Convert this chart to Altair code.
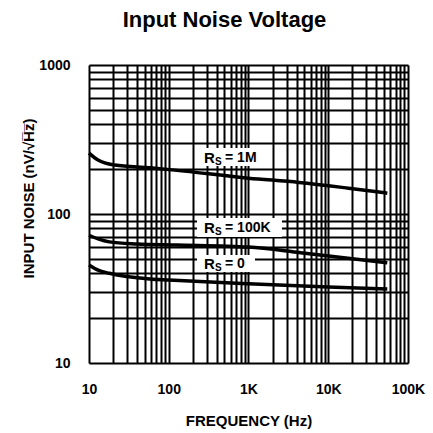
import altair as alt
import pandas as pd

# Noise curves: frequency (Hz) vs input noise (nV/sqrt(Hz)) for each source resistance
freq_1m = [10, 13, 21, 58, 119, 1000, 4300, 18000, 55000]
noise_1m = [256, 230, 213, 204, 197, 174, 163, 149, 138]

freq_100k = [10, 13, 18, 40, 126, 1000, 4500, 55000]
noise_100k = [72, 68, 65, 63, 62, 60, 55, 47]

freq_0 = [10, 13, 18, 58, 100, 1000, 10000, 55000]
noise_0 = [45.5, 42, 40, 36.6, 36, 34, 32.4, 31.4]

# Curve labels: anchor point and the white box behind each label
label_main = ["R", "R", "R"]
label_sub = ["S", "S", "S"]
label_rest = ["= 1M", "= 100K", "= 0"]
label_freq = [277, 277, 277]
label_noise = [238, 80.5, 46.2]
box_f_lo = [226, 226, 226]
box_f_hi = [1757, 2630, 1206]
box_n_lo = [210, 70.1, 40.8]
box_n_hi = [277, 94, 53.1]

# Log grid positions (1..9 per decade)
x_grid = [k * 10 ** e for e in range(1, 5) for k in range(1, 10)] + [100000]
y_grid = [k * 10 ** e for e in range(1, 3) for k in range(1, 10)] + [1000]

rows = []
for name, fs, ns in [("1M", freq_1m, noise_1m), ("100K", freq_100k, noise_100k), ("0", freq_0, noise_0)]:
    for f, n in zip(fs, ns):
        rows.append({"series": name, "freq": f, "noise": n})
curves = pd.DataFrame(rows)

labels = pd.DataFrame({
    "main": label_main, "sub": label_sub, "rest": label_rest,
    "freq": label_freq, "noise": label_noise,
    "f_lo": box_f_lo, "f_hi": box_f_hi, "n_lo": box_n_lo, "n_hi": box_n_hi,
})

FONT = "Liberation Sans"

x_scale = alt.Scale(type="log", domain=[10, 100000], nice=False)
y_scale = alt.Scale(type="log", domain=[10, 1000], nice=False)

x_axis = alt.Axis(
    values=x_grid, grid=True, gridColor="black", gridWidth=2, gridOpacity=1,
    ticks=False, domain=False, labelOverlap=False, labelFlush=False,
    labelExpr="datum.value == 10 ? '10' : datum.value == 100 ? '100' : datum.value == 1000 ? '1K' : datum.value == 10000 ? '10K' : datum.value == 100000 ? '100K' : ''",
    labelFont=FONT, labelFontWeight="bold", labelFontSize=14, labelColor="black",
    labelPadding=19, labelBaseline="top",
    title="FREQUENCY (Hz)", titleFont=FONT, titleFontWeight="bold", titleFontSize=15,
    titleColor="black", titleY=57, titleBaseline="middle",
)
y_axis = alt.Axis(
    values=y_grid, grid=True, gridColor="black", gridWidth=2, gridOpacity=1,
    ticks=False, domain=False, labelOverlap=False, labelFlush=False,
    labelExpr="datum.value == 10 ? '10' : datum.value == 100 ? '100' : datum.value == 1000 ? '1000' : ''",
    labelFont=FONT, labelFontWeight="bold", labelFontSize=14, labelColor="black",
    labelPadding=19,
    title="INPUT NOISE (nV/\u221aH\u0305z\u0305)", titleFont=FONT, titleFontWeight="bold",
    titleFontSize=15, titleColor="black", titleAngle=-90, titleX=-61, titleY=133,
    titleAlign="center", titleBaseline="middle",
)

lines = alt.Chart(curves).mark_line(color="black", strokeWidth=3.5, interpolate="monotone").encode(
    x=alt.X("freq:Q", scale=x_scale, axis=x_axis),
    y=alt.Y("noise:Q", scale=y_scale, axis=y_axis),
    detail="series:N",
)

boxes = alt.Chart(labels).mark_rect(color="white").encode(
    x=alt.X("f_lo:Q", scale=x_scale), x2="f_hi:Q",
    y=alt.Y("n_lo:Q", scale=y_scale), y2="n_hi:Q",
)

text_style = dict(font=FONT, fontWeight="bold", color="black", align="left", baseline="middle")
t_main = alt.Chart(labels).mark_text(fontSize=15, **text_style).encode(
    x=alt.X("freq:Q", scale=x_scale), y=alt.Y("noise:Q", scale=y_scale), text="main:N")
t_sub = alt.Chart(labels).mark_text(fontSize=10, dx=11, dy=4, **text_style).encode(
    x=alt.X("freq:Q", scale=x_scale), y=alt.Y("noise:Q", scale=y_scale), text="sub:N")
t_rest = alt.Chart(labels).mark_text(fontSize=14, dx=21, **text_style).encode(
    x=alt.X("freq:Q", scale=x_scale), y=alt.Y("noise:Q", scale=y_scale), text="rest:N")

chart = alt.layer(lines, boxes, t_main, t_sub, t_rest).properties(
    width=319, height=298,
    title=alt.TitleParams("Input Noise Voltage", font=FONT, fontWeight="bold", fontSize=22,
                          color="black", anchor="middle", dx=-24, offset=26),
    autosize=alt.AutoSizeParams(type="none"),
    padding={"left": 89, "top": 65, "right": 25, "bottom": 70},
).configure_view(stroke="black", strokeWidth=3).configure(background="white")

chart.save("out.html", embed_options={"renderer": "svg", "actions": False})
